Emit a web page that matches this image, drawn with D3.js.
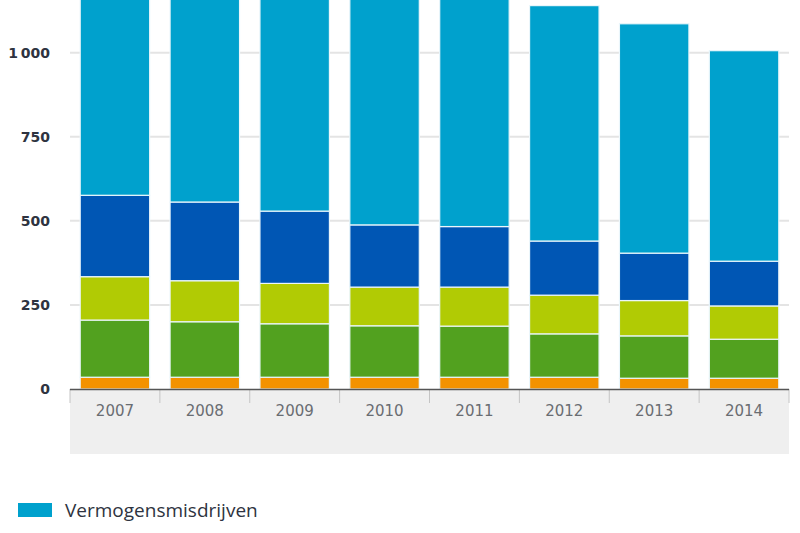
<!DOCTYPE html>
<html>
<head>
<meta charset="utf-8">
<script src="https://cdn.jsdelivr.net/npm/d3@7"></script>
<style>
  html, body { margin: 0; padding: 0; background: #fff; }
  svg { display: block; }
</style>
</head>
<body>
<svg id="chart" width="800" height="533"></svg>
<script>
// ---- data (thousands of registered crimes) ----
const years = ["2007", "2008", "2009", "2010", "2011", "2012", "2013", "2014"];
const seriesNames = [
  "Drugsmisdrijven",
  "Verkeersmisdrijven",
  "Gewelds- en seksuele misdrijven",
  "Vernielingen en misdrijven tegen openbare orde en gezag",
  "Vermogensmisdrijven"
];
const drugs      = [35, 35, 35, 35, 35, 35, 32, 32];
const verkeer    = [170, 165, 159, 153, 152, 129, 126, 116];
const geweld     = [129, 122, 120, 115, 116, 115, 105, 99];
const vernieling = [242, 234, 215, 185, 180, 161, 141, 133];
const vermogen   = [734, 734, 731, 722, 727, 700, 682, 626];
const yTicks = [0, 250, 500, 750, 1000];
const legendOrder = [4, 3];

const colors = ["#f39200", "#52a11f", "#b1cb04", "#0056b4", "#00a1cd"];
const seriesValues = [drugs, verkeer, geweld, vernieling, vermogen];

const table = years.map((yr, i) => {
  const row = { year: yr };
  seriesNames.forEach((n, s) => row[n] = seriesValues[s][i]);
  return row;
});
const stacked = d3.stack().keys(seriesNames)(table);

const svg = d3.select("#chart");
const x = d3.scaleBand().domain(years).range([70, 789]).paddingInner(0.227).paddingOuter(0.1135);
const y = d3.scaleLinear().domain([0, 1000]).range([389, 52.7]);

// gray band under the axis
svg.append("rect").attr("x", 70).attr("y", 389).attr("width", 719).attr("height", 65).attr("fill", "#efefef");

// gridlines
svg.append("g").selectAll("line").data(yTicks.filter(d => d > 0)).join("line")
  .attr("x1", 70).attr("x2", 789)
  .attr("y1", d => y(d)).attr("y2", d => y(d))
  .attr("stroke", "#e4e4e4").attr("stroke-width", 2);

// bars
svg.append("g").selectAll("g").data(stacked).join("g")
  .attr("fill", (d, i) => colors[i])
  .selectAll("rect").data(d => d).join("rect")
  .attr("x", d => x(d.data.year))
  .attr("width", x.bandwidth())
  .attr("y", d => y(d[1]))
  .attr("height", d => y(d[0]) - y(d[1]))
  .attr("stroke", "#eaf6fb").attr("stroke-width", 1.2);

// x axis line and ticks at band boundaries
const bounds = years.map(yr => x(yr) - x.step() * x.paddingInner() / 2).concat([789]);
svg.append("g").selectAll("line").data(bounds).join("line")
  .attr("x1", d => d).attr("x2", d => d)
  .attr("y1", 389).attr("y2", 403)
  .attr("stroke", "#c4c4c4").attr("stroke-width", 1);
svg.append("line").attr("x1", 70).attr("x2", 789).attr("y1", 389.5).attr("y2", 389.5)
  .attr("stroke", "#555").attr("stroke-width", 1.6);

svg.append("g").selectAll("text").data(years).join("text")
  .attr("x", d => x(d) + x.bandwidth() / 2)
  .attr("y", 411)
  .attr("text-anchor", "middle").attr("dominant-baseline", "central")
  .attr("font-family", "DejaVu Sans, Verdana, sans-serif").attr("font-size", 15)
  .attr("fill", "#6a6d72")
  .text(d => d);

// y labels
const fmt = d => d >= 1000 ? d3.format(",")(d).replace(",", "\u2009") : String(d);
svg.append("g").selectAll("text").data(yTicks).join("text")
  .attr("x", 50)
  .attr("y", d => y(d))
  .attr("text-anchor", "end").attr("dominant-baseline", "central")
  .attr("font-family", "DejaVu Sans, Verdana, sans-serif").attr("font-size", 14).attr("font-weight", "bold")
  .attr("fill", "#2e3340")
  .text(fmt);

// legend
const lg = svg.append("g").selectAll("g").data(legendOrder).join("g")
  .attr("transform", (d, i) => `translate(18, ${503 + i * 31})`);
lg.append("rect").attr("width", 34).attr("height", 14).attr("fill", d => colors[d]);
lg.append("text").attr("x", 47).attr("y", 7).attr("dominant-baseline", "central")
  .attr("font-family", "Open Sans, sans-serif").attr("font-size", 19)
  .attr("fill", "#2e3340")
  .text(d => seriesNames[d]);
</script>
</body>
</html>
